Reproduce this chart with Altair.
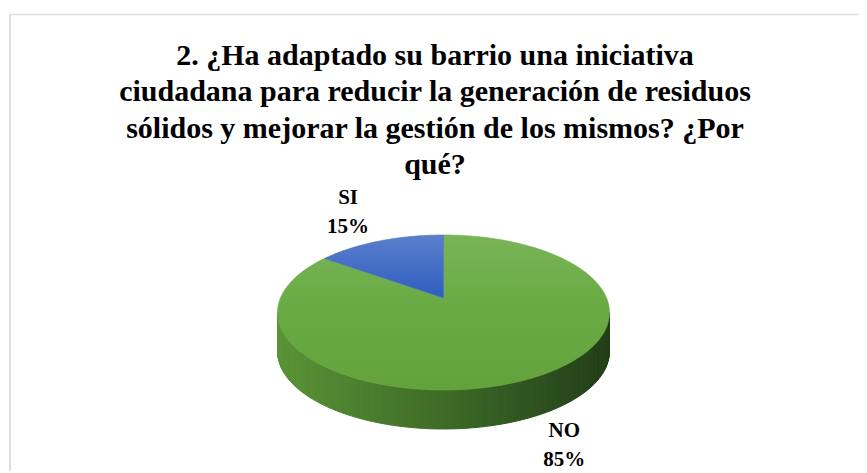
import math
import altair as alt
import pandas as pd

# ---------------- data ----------------
CATEGORIES = ["NO", "SI"]
VALUES = [85, 15]
TITLE_LINES = [
    "2. ¿Ha adaptado su barrio una iniciativa",
    "ciudadana para reducir la generación de residuos",
    "sólidos y mejorar la gestión de los mismos? ¿Por",
    "qué?",
]

# ---------------- layout (page pixels) ----------------
W, H = 851, 463
X_DOM = [8, 8 + W]
Y_DOM = [8, 8 + H]
CX, CY = 443.5, 312.5      # centre of the top ellipse
RX, RY = 166.0, 77.5       # radii of the top ellipse
PERSP = -0.187             # perspective factor (apex sits above ellipse centre)
DEPTH = 39                 # thickness of the pie
LABEL_DIST = 43
LABEL_LH = 29
N_ARC = 160
N_SIDE = 70
SERIF = "'Liberation Serif', 'Times New Roman', serif"


def project(phi, r=1.0):
    """phi: clockwise angle from 12 o'clock on the pie disc; returns page px."""
    c = PERSP
    u = r * math.sin(phi)
    v = -r * math.cos(phi)
    d = 1 + c * v
    xp = math.sqrt(1 - c * c) * u / d
    yp = (v + c) / d
    return CX + RX * xp, CY + RY * yp


total = float(sum(VALUES))
face_rows, label_rows = [], []
start = 0.0
ax, ay = project(0.0, 0.0)
for cat, val in zip(CATEGORIES, VALUES):
    a0 = 2 * math.pi * start / total
    a1 = 2 * math.pi * (start + val) / total
    n = max(3, int(N_ARC * val / total) + 2)
    face_rows.append(dict(slice=cat, i=0, x=ax, y=ay))
    for k in range(n + 1):
        px, py = project(a0 + (a1 - a0) * k / n)
        face_rows.append(dict(slice=cat, i=k + 1, x=px, y=py))
    mid = (a0 + a1) / 2
    rx_, ry_ = project(mid)
    dx, dy = rx_ - ax, ry_ - ay
    L = math.hypot(dx, dy)
    front = math.cos(mid) < PERSP
    lx = rx_ + LABEL_DIST * dx / L
    ly = ry_ + (DEPTH if front else 0) + LABEL_DIST * dy / L - LABEL_LH / 2
    pct = round(100 * val / total)
    label_rows.append(dict(slice=cat, x=lx, y=ly, label=f"{cat}\n{pct}%"))
    start += val

faces = pd.DataFrame(face_rows)
labels = pd.DataFrame(label_rows)

side_rows = []
phi_a = math.acos(PERSP)
phi_b = 2 * math.pi - phi_a
for s in range(N_SIDE):
    p0 = phi_a + (phi_b - phi_a) * s / N_SIDE
    p1 = phi_a + (phi_b - phi_a) * (s + 1) / N_SIDE
    x0, y0 = project(p0)
    x1, y1 = project(p1)
    shade = ((x0 + x1) / 2 - CX) / RX
    for i, (px, py) in enumerate([(x0, y0), (x1, y1), (x1, y1 + DEPTH), (x0, y0 + DEPTH)]):
        side_rows.append(dict(seg=s, i=i, x=px, y=py, shade=shade))
side = pd.DataFrame(side_rows)

xs = alt.Scale(domain=X_DOM, range=[0, W], nice=False, zero=False)
ys = alt.Scale(domain=Y_DOM, range=[0, H], nice=False, zero=False)
X = alt.X("x:Q", scale=xs, axis=None)
Y = alt.Y("y:Q", scale=ys, axis=None)

shade_scale = alt.Scale(domain=[-1, 0, 1], range=["#5a9436", "#3e6b27", "#223e18"])

side_layer = alt.Chart(side).mark_line(interpolate="linear-closed", strokeWidth=1).encode(
    x=X, y=Y,
    order=alt.Order("i:Q"),
    detail="seg:N",
    fill=alt.Fill("shade:Q", scale=shade_scale, legend=None),
    stroke=alt.Stroke("shade:Q", scale=shade_scale, legend=None),
)

green_grad = alt.Gradient(
    gradient="linear", x1=0, y1=0, x2=0, y2=1,
    stops=[alt.GradientStop(offset=0, color="#79b457"),
           alt.GradientStop(offset=0.45, color="#6aab45"),
           alt.GradientStop(offset=1, color="#63a23b")],
)
blue_grad = alt.Gradient(
    gradient="linear", x1=0, y1=0, x2=0, y2=1,
    stops=[alt.GradientStop(offset=0, color="#5a7fcc"),
           alt.GradientStop(offset=1, color="#2e5dbf")],
)

no_layer = alt.Chart(faces).transform_filter(alt.datum.slice == "NO").mark_line(
    interpolate="linear-closed", fill=green_grad, stroke="#6aab45", strokeWidth=0.6
).encode(x=X, y=Y, order=alt.Order("i:Q"))

si_layer = alt.Chart(faces).transform_filter(alt.datum.slice == "SI").mark_line(
    interpolate="linear-closed", fill=blue_grad, stroke="#4a72c6", strokeWidth=0.6
).encode(x=X, y=Y, order=alt.Order("i:Q"))

label_layer = alt.Chart(labels).mark_text(
    font=SERIF, fontSize=21, fontWeight="bold", color="#000000",
    lineBreak="\n", lineHeight=LABEL_LH, align="center", baseline="middle",
).encode(x=X, y=Y, text="label:N")

dummy = pd.DataFrame({"k": [0]})
frame_left = alt.Chart(dummy).mark_rule(color="#dadfe8", strokeWidth=2).encode(
    x=alt.value(2), y=alt.value(6), y2=alt.value(H)
)
frame_top = alt.Chart(dummy).mark_rule(color="#dadfe8", strokeWidth=1.5).encode(
    x=alt.value(1), x2=alt.value(W), y=alt.value(6.5)
)

title_layer = alt.Chart(dummy).mark_text(
    font=SERIF, fontSize=30, fontWeight="bold", color="#000000",
    lineHeight=36.3, align="center", baseline="alphabetic",
).encode(x=alt.value(435 - 8), y=alt.value(65 - 8), text=alt.value(TITLE_LINES))

chart = alt.layer(
    frame_left, frame_top, side_layer, no_layer, si_layer, label_layer, title_layer
).properties(
    width=W, height=H, padding=0, background="white",
    autosize=alt.AutoSizeParams(type="none"),
).configure_view(strokeWidth=0).configure_text(font=SERIF)

chart.save("out.html", embed_options={"renderer": "svg", "actions": False})
